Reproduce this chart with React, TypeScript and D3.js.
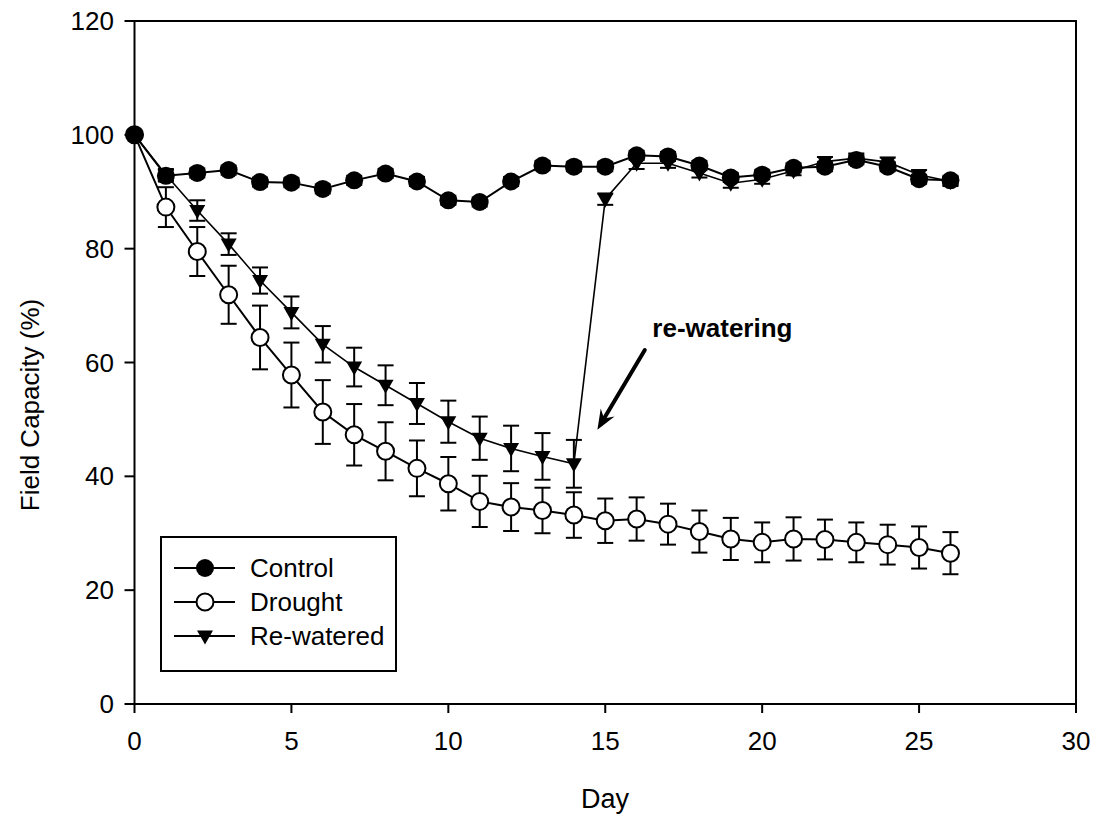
// App.tsx
// field capacity over days, three treatments with error bars
import * as d3 from 'd3';
import React from 'react';

const days = [0,1,2,3,4,5,6,7,8,9,10,11,12,13,14,15,16,17,18,19,20,21,22,23,24,25,26];

const control = [100, 92.8, 93.3, 93.8, 91.7, 91.6, 90.5, 92.0, 93.2, 91.8, 88.5, 88.2, 91.8, 94.6, 94.4, 94.4, 96.4, 96.2, 94.6, 92.5, 93.0, 94.2, 94.4, 95.6, 94.4, 92.2, 92.0];
const controlErr = [0, 1.0, 0.8, 0.8, 0.8, 0.8, 0.8, 0.8, 0.8, 0.8, 0.8, 0.8, 0.8, 0.8, 0.8, 0.8, 0.8, 0.8, 0.8, 0.8, 0.8, 0.8, 0.8, 0.8, 0.8, 0.8, 0.8];

const drought = [100, 87.3, 79.5, 71.9, 64.4, 57.8, 51.3, 47.3, 44.4, 41.4, 38.7, 35.6, 34.6, 34.0, 33.2, 32.2, 32.5, 31.6, 30.3, 29.0, 28.4, 29.0, 28.9, 28.4, 28.0, 27.5, 26.5];
const droughtErr = [0, 3.5, 4.3, 5.1, 5.6, 5.7, 5.6, 5.4, 5.1, 4.9, 4.7, 4.5, 4.2, 4.0, 4.0, 3.9, 3.8, 3.6, 3.7, 3.7, 3.5, 3.8, 3.5, 3.5, 3.5, 3.7, 3.7];

const rewatered = [100, 93.0, 86.7, 80.8, 74.4, 68.8, 63.2, 59.2, 56.0, 52.8, 49.6, 46.7, 44.9, 43.5, 42.2, 88.7, 95.0, 95.0, 93.3, 91.5, 92.2, 93.7, 95.3, 95.9, 95.2, 93.0, 91.8];
const rewateredErr = [0, 1.0, 1.8, 1.9, 2.3, 2.8, 3.2, 3.4, 3.5, 3.6, 3.7, 3.8, 4.0, 4.1, 4.2, 1.0, 1.0, 0.8, 0.8, 0.8, 0.8, 0.8, 0.8, 0.8, 0.8, 0.8, 0.8];

const xTicks = [0, 5, 10, 15, 20, 25, 30];
const yTicks = [0, 20, 40, 60, 80, 100, 120];
const legendLabels = ["Control", "Drought", "Re-watered"];

const W = 1096, H = 816;
const font = "'Liberation Sans', Arial, sans-serif";

const xScale = d3.scaleLinear().domain([0, 30]).range([134.5, 1076]);
const yScale = d3.scaleLinear().domain([0, 120]).range([704, 21]);

const tri = "M-8,-5.5L8,-5.5L0,8.5Z";

function ErrorBars({ vals, errs, stroke }) {
    const cap = 8;
    return (
        <g stroke="#000" strokeWidth={stroke}>
            {days.map((d, i) => errs[i] > 0 && (
                <g key={i}>
                    <line x1={xScale(d)} x2={xScale(d)} y1={yScale(vals[i] + errs[i])} y2={yScale(vals[i] - errs[i])} />
                    <line x1={xScale(d) - cap} x2={xScale(d) + cap} y1={yScale(vals[i] + errs[i])} y2={yScale(vals[i] + errs[i])} />
                    <line x1={xScale(d) - cap} x2={xScale(d) + cap} y1={yScale(vals[i] - errs[i])} y2={yScale(vals[i] - errs[i])} />
                </g>
            ))}
        </g>
    );
}

function Marker({ kind, x, y }) {
    if (kind === 0) return <circle cx={x} cy={y} r={9} fill="#000" />;
    if (kind === 1) return <circle cx={x} cy={y} r={8.5} fill="#fff" stroke="#000" strokeWidth={2} />;
    return <path d={tri} transform={`translate(${x},${y})`} fill="#000" />;
}

export default function App() {
    const line = (vals) => d3.line().x((d, i) => xScale(days[i])).y((d) => yScale(d))(vals);

    // arrow for annotation, in data space
    const a0 = [xScale(16.26), yScale(62.2)];
    const a1 = [xScale(14.75), yScale(48.2)];
    const ang = Math.atan2(a1[1] - a0[1], a1[0] - a0[0]);
    const hl = 20, hw = 8;
    const bx = a1[0] - hl * Math.cos(ang), by = a1[1] - hl * Math.sin(ang);
    const head = [
        [a1[0], a1[1]],
        [bx + hw * Math.sin(ang), by - hw * Math.cos(ang)],
        [a1[0] - 13 * Math.cos(ang), a1[1] - 13 * Math.sin(ang)],
        [bx - hw * Math.sin(ang), by + hw * Math.cos(ang)]
    ];

    const series = [
        { vals: drought, errs: droughtErr, kind: 1 },
        { vals: rewatered, errs: rewateredErr, kind: 2 },
        { vals: control, errs: controlErr, kind: 0 }
    ];

    return (
        <svg width={W} height={H} style={{ position: "absolute", left: 0, top: 0, background: "#fff" }} fontFamily={font}>
            <rect x={0} y={0} width={W} height={H} fill="#fff" />

            {/* frame */}
            <rect x={xScale(0)} y={yScale(120)} width={xScale(30) - xScale(0)} height={yScale(0) - yScale(120)} fill="none" stroke="#000" strokeWidth={2} />

            {/* ticks */}
            {xTicks.map((t) => (
                <g key={"x" + t}>
                    <line x1={xScale(t)} x2={xScale(t)} y1={yScale(0)} y2={yScale(0) + 9} stroke="#000" strokeWidth={2} />
                    <text x={xScale(t)} y={750} textAnchor="middle" fontSize={26}>{t}</text>
                </g>
            ))}
            {yTicks.map((t) => (
                <g key={"y" + t}>
                    <line x1={xScale(0) - 10} x2={xScale(0)} y1={yScale(t)} y2={yScale(t)} stroke="#000" strokeWidth={2} />
                    <text x={114} y={yScale(t) + 9} textAnchor="end" fontSize={26}>{t}</text>
                </g>
            ))}

            <text x={605} y={808} textAnchor="middle" fontSize={27}>Day</text>
            <text transform={`translate(39,405) rotate(-90)`} textAnchor="middle" fontSize={26}>Field Capacity (%)</text>

            {/* lines */}
            {series.map((s, k) => (
                <path key={"l" + k} d={line(s.vals)} fill="none" stroke="#000" strokeWidth={k === 1 ? 1.6 : 2} />
            ))}
            {series.map((s, k) => (
                <ErrorBars key={"e" + k} vals={s.vals} errs={s.errs} stroke={2} />
            ))}
            {series.map((s, k) => (
                <g key={"m" + k}>
                    {s.vals.map((v, i) => <Marker key={i} kind={s.kind} x={xScale(days[i])} y={yScale(v)} />)}
                </g>
            ))}

            {/* annotation */}
            <text x={xScale(16.5)} y={yScale(64.5)} fontSize={26} fontWeight="bold">re-watering</text>
            <line x1={a0[0]} y1={a0[1]} x2={head[2][0]} y2={head[2][1]} stroke="#000" strokeWidth={4} strokeLinecap="round" />
            <polygon points={head.map((p) => p.join(",")).join(" ")} fill="#000" />

            {/* legend */}
            <rect x={161} y={537} width={235} height={134} fill="#fff" stroke="#000" strokeWidth={2} />
            {legendLabels.map((lab, i) => {
                const ly = 568 + i * 34;
                return (
                    <g key={lab}>
                        <line x1={174} x2={235} y1={ly} y2={ly} stroke="#000" strokeWidth={2} />
                        <Marker kind={i} x={205} y={ly} />
                        <text x={250} y={ly + 9} fontSize={26}>{lab}</text>
                    </g>
                );
            })}
        </svg>
    );
}
